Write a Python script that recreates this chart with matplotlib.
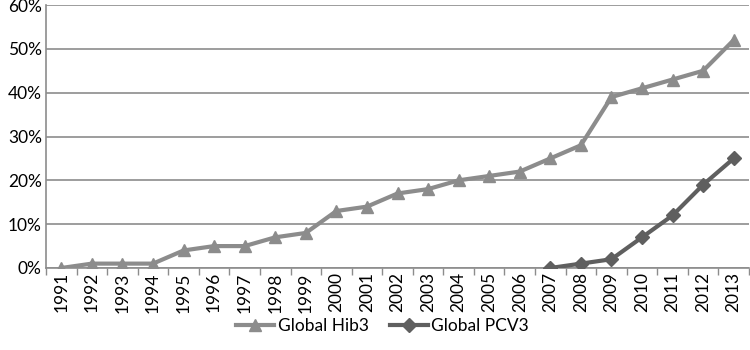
import matplotlib
matplotlib.use("Agg")
import matplotlib.pyplot as plt
import numpy as np

years = [str(y) for y in range(1991, 2014)]
hib3 = [0, 1, 1, 1, 4, 5, 5, 7, 8, 13, 14, 17, 18, 20, 21, 22, 25, 28, 39, 41, 43, 45, 52]
pcv_years = [str(y) for y in range(2007, 2014)]
pcv3 = [0, 1, 2, 7, 12, 19, 25]
yticks = [0, 10, 20, 30, 40, 50, 60]

plt.rcParams['font.family'] = ['Lato', 'DejaVu Sans']

fig = plt.figure(figsize=(7.5, 3.5), dpi=100)
ax = fig.add_axes([46/750, 1-268/350, (749-46)/750, (268-5)/350])

x = np.arange(len(years))
px = np.array([years.index(y) for y in pcv_years])

ax.plot(x, hib3, color='#8c8c8c', lw=3, marker='^', ms=9, label='Global Hib3', zorder=3)
ax.plot(px, pcv3, color='#5f5f5f', lw=3, marker='D', ms=7, label='Global PCV3', zorder=4)

ax.set_xlim(-0.5, len(years)-0.5)
ax.set_ylim(0, 60)
ax.set_yticks(yticks)
ax.set_yticklabels([f"{v}%" for v in yticks], fontsize=12.5)
ax.set_xticks(x)
ax.set_xticklabels(years, rotation=90, fontsize=12.5)
ax.tick_params(axis='x', length=0, pad=3)
ax.set_xticks(np.arange(-0.5, len(years), 1), minor=True)
ax.tick_params(axis='x', which='minor', length=5, color='#8c8c8c', width=1)
ax.tick_params(axis='y', length=0, pad=3)
ax.grid(axis='y', color='#8c8c8c', lw=1.2)
ax.set_axisbelow(True)
for s in ['top', 'right']:
    ax.spines[s].set_visible(False)
ax.spines['left'].set_color('#8c8c8c')
ax.spines['left'].set_linewidth(1.2)
ax.spines['bottom'].set_color('#8c8c8c')
ax.spines['bottom'].set_linewidth(1.2)

fig.legend(loc='center', bbox_to_anchor=(0.51, 1-326/350), ncol=2, frameon=False,
           fontsize=12.5, handlelength=2.2, columnspacing=1.2, handletextpad=0.2)

fig.savefig('out.png', dpi=100)
